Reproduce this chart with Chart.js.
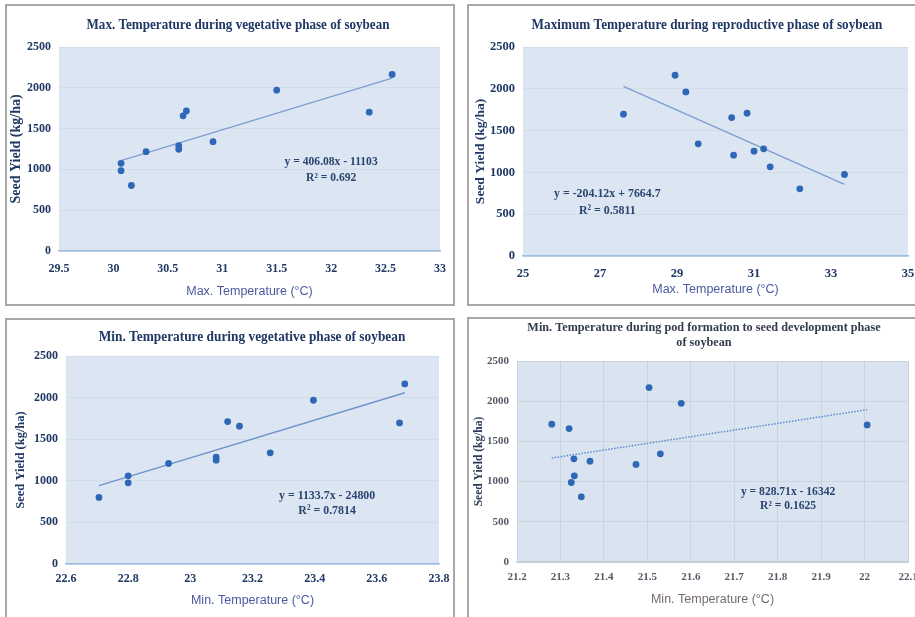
<!DOCTYPE html>
<html><head><meta charset="utf-8">
<script src="https://cdn.jsdelivr.net/npm/chart.js@4.4.1/dist/chart.umd.min.js"></script>
<style>
html,body{margin:0;padding:0;width:915px;height:617px;overflow:hidden;background:#fff;}
.frame{position:absolute;box-sizing:border-box;border:2px solid #a8a8a8;background:#fff;}
canvas{position:absolute;}
</style></head><body>
<div class="frame" style="left:5px;top:4px;width:450px;height:302px"></div>
<div class="frame" style="left:467px;top:4px;width:460px;height:302px"></div>
<div class="frame" style="left:5px;top:318px;width:450px;height:320px"></div>
<div class="frame" style="left:467px;top:317px;width:460px;height:320px"></div>
<canvas id="c1" width="446" height="298" style="left:7px;top:6px"></canvas>
<canvas id="c2" width="446" height="298" style="left:469px;top:6px"></canvas>
<canvas id="c3" width="446" height="297" style="left:7px;top:320px"></canvas>
<canvas id="c4" width="446" height="298" style="left:469px;top:319px"></canvas>
<script>
// ---- data ----
const yieldTicks = [0, 500, 1000, 1500, 2000, 2500];

// Panel 1: Max. temperature, vegetative phase
const maxVegTemp  = [30.07, 30.07, 30.165, 30.30, 30.60, 30.60, 30.64, 30.67, 30.915, 31.50, 32.35, 32.56];
const maxVegYield = [1074, 984, 803, 1217, 1291, 1246, 1656, 1717, 1340, 1971, 1701, 2164];
const maxVegTicks = [29.5, 30, 30.5, 31, 31.5, 32, 32.5, 33];
const maxVegTrendX = [30.07, 32.56];
const maxVegTrendY = [1107, 2119];

// Panel 2: Maximum temperature, reproductive phase
const maxRepTemp  = [27.61, 28.95, 29.23, 29.55, 30.42, 30.47, 30.82, 31.0, 31.25, 31.42, 32.19, 33.35];
const maxRepYield = [1696, 2162, 1963, 1342, 1656, 1206, 1708, 1254, 1282, 1067, 804, 975];
const maxRepTicks = [25, 27, 29, 31, 33, 35];
const maxRepTrendX = [27.61, 33.35];
const maxRepTrendY = [2029, 857];

// Panel 3: Min. temperature, vegetative phase
const minVegTemp  = [22.706, 22.80, 22.80, 22.93, 23.083, 23.083, 23.12, 23.158, 23.257, 23.396, 23.673, 23.69];
const minVegYield = [800, 1060, 976, 1208, 1284, 1248, 1712, 1656, 1336, 1968, 1696, 2164];
const minVegTicks = [22.6, 22.8, 23, 23.2, 23.4, 23.6, 23.8];
const minVegTrendX = [22.706, 23.69];
const minVegTrendY = [942, 2058];

// Panel 4: Min. temperature, pod formation to seed development
const minPodTemp  = [21.28, 21.32, 21.331, 21.368, 21.332, 21.325, 21.348, 21.474, 21.504, 21.53, 21.578, 22.006];
const minPodYield = [1714, 1660, 1283, 1254, 1072, 989, 811, 1213, 2169, 1345, 1974, 1705];
const minPodTicks = [21.2, 21.3, 21.4, 21.5, 21.6, 21.7, 21.8, 21.9, 22, 22.1];
const minPodTrendX = [21.28, 22.006];
const minPodTrendY = [1293, 1895];

// ---- drawing ----
function squeezedText(ctx, t, x, y, sx) {
  ctx.save();
  ctx.translate(x, y);
  ctx.scale(sx, 1);
  ctx.fillText(t, 0, 0);
  ctx.restore();
}
const panelDeco = {
  id: 'panelDeco',
  beforeDraw(chart, args, o) {
    const {ctx, chartArea: a} = chart;
    ctx.save();
    ctx.fillStyle = o.bg;
    ctx.fillRect(a.left, a.top, a.right - a.left, a.bottom - a.top);
    ctx.restore();
  },
  afterDraw(chart, args, o) {
    const ctx = chart.ctx;
    ctx.save();
    ctx.textAlign = 'center';
    ctx.textBaseline = 'middle';
    ctx.font = o.titleFont;
    ctx.fillStyle = o.titleColor;
    o.title.forEach((t, i) => squeezedText(ctx, t, o.titleX, o.titleY + i * o.titleGap, o.titleSqueeze));
    const px = chart.scales.x.getPixelForValue(o.eqAt[0]);
    const py = chart.scales.y.getPixelForValue(o.eqAt[1]);
    ctx.font = o.eqFont;
    ctx.fillStyle = o.eqColor;
    o.eq.forEach((t, i) => squeezedText(ctx, t, px, py + i * o.eqGap, o.eqSqueeze));
    ctx.restore();
  }
};

function makeChart(id, c) {
  const serif = 'Liberation Serif';
  new Chart(document.getElementById(id), {
    type: 'scatter',
    data: {
      datasets: [
        {
          data: c.trendX.map((x, i) => ({x, y: c.trendY[i]})),
          showLine: true, pointRadius: 0, borderColor: c.trendColor,
          borderWidth: c.trendWidth, borderDash: c.trendDash, order: 2
        },
        {
          data: c.x.map((x, i) => ({x, y: c.y[i]})),
          pointRadius: 3.4, backgroundColor: '#2e67b6', borderColor: '#2e67b6',
          borderWidth: 0, order: 1
        }
      ]
    },
    options: {
      responsive: false, animation: false, events: [],
      layout: {padding: {left: 0, top: c.plotTop, right: c.padRight, bottom: 0}},
      plugins: {
        legend: {display: false}, tooltip: {enabled: false},
        panelDeco: c.deco
      },
      scales: {
        x: {
          type: 'linear', min: c.xTicks[0], max: c.xTicks[c.xTicks.length - 1],
          afterBuildTicks: s => { s.ticks = c.xTicks.map(v => ({value: v})); },
          afterFit: s => { s.height = c.xH; s.paddingLeft = 0; s.paddingRight = 0; },
          ticks: {
            callback: v => String(v), color: c.tickColor, padding: c.xTickPad,
            font: {family: serif, weight: 'bold', size: c.tickSize}, maxRotation: 0, autoSkip: false
          },
          grid: {display: true, color: c.xGrid, drawTicks: false},
          border: {display: true, color: c.axisColor, width: 1.5},
          title: {
            display: true, text: c.xTitle, color: c.xTitleColor,
            font: {family: 'Liberation Sans', size: 12.5}, padding: {top: 0, bottom: c.xTitlePad}
          }
        },
        y: {
          type: 'linear', min: 0, max: 2500,
          afterBuildTicks: s => { s.ticks = yieldTicks.map(v => ({value: v})); },
          afterFit: s => { s.width = c.plotLeft; s.paddingTop = 0; s.paddingBottom = 0; },
          ticks: {
            callback: v => String(v), color: c.tickColor, padding: 8,
            font: {family: serif, weight: 'bold', size: c.yTickSize}
          },
          grid: {display: true, color: c.yGrid, drawTicks: false},
          border: {display: false},
          title: {
            display: true, text: 'Seed Yield (kg/ha)', color: c.yTitleColor,
            font: {family: serif, weight: 'bold', size: c.yTitleSize}, padding: {top: c.yTitlePad, bottom: 0}
          }
        }
      }
    },
    plugins: [panelDeco]
  });
}

const navy = '#1f3864';
makeChart('c1', {
  x: maxVegTemp, y: maxVegYield, xTicks: maxVegTicks, trendX: maxVegTrendX, trendY: maxVegTrendY,
  trendColor: '#7d9dcf', trendWidth: 1.3, trendDash: [],
  plotTop: 41, plotLeft: 52, padRight: 13, xH: 53, xTickPad: 11, xTitlePad: 5,
  tickColor: navy, tickSize: 12, yTickSize: 12, xGrid: 'rgba(0,0,0,0)', yGrid: '#d2ddea', axisColor: '#9fbde3',
  xTitle: 'Max. Temperature (°C)', xTitleColor: '#4a5aa0', yTitleColor: navy, yTitleSize: 14, yTitlePad: 1,
  deco: {
    bg: '#dce6f2', title: ['Max. Temperature during vegetative phase of soybean'],
    titleX: 231, titleY: 19, titleGap: 0, titleFont: 'bold 15px "Liberation Serif"', titleColor: navy, titleSqueeze: 0.873,
    eq: ['y = 406.08x - 11103', 'R² = 0.692'], eqAt: [32.0, 1090], eqGap: 16,
    eqFont: 'bold 13px "Liberation Serif"', eqColor: '#2a4470', eqSqueeze: 0.89
  }
});
makeChart('c2', {
  x: maxRepTemp, y: maxRepYield, xTicks: maxRepTicks, trendX: maxRepTrendX, trendY: maxRepTrendY,
  trendColor: '#7d9dcf', trendWidth: 1.3, trendDash: [],
  plotTop: 41, plotLeft: 54, padRight: 7, xH: 48, xTickPad: 10, xTitlePad: 7,
  tickColor: navy, tickSize: 12.5, yTickSize: 12.5, xGrid: 'rgba(0,0,0,0)', yGrid: '#d2ddea', axisColor: '#9fbde3',
  xTitle: 'Max. Temperature (°C)', xTitleColor: '#4a5aa0', yTitleColor: navy, yTitleSize: 13.5, yTitlePad: 3,
  deco: {
    bg: '#dce6f2', title: ['Maximum Temperature during reproductive phase of soybean'],
    titleX: 238, titleY: 19, titleGap: 0, titleFont: 'bold 15px "Liberation Serif"', titleColor: navy, titleSqueeze: 0.88,
    eq: ['y = -204.12x + 7664.7', 'R² = 0.5811'], eqAt: [27.19, 742], eqGap: 17,
    eqFont: 'bold 13.5px "Liberation Serif"', eqColor: '#2a4470', eqSqueeze: 0.88
  }
});
makeChart('c3', {
  x: minVegTemp, y: minVegYield, xTicks: minVegTicks, trendX: minVegTrendX, trendY: minVegTrendY,
  trendColor: '#6f93cc', trendWidth: 1.4, trendDash: [],
  plotTop: 36, plotLeft: 59, padRight: 14, xH: 53, xTickPad: 8, xTitlePad: 9,
  tickColor: navy, tickSize: 12, yTickSize: 12, xGrid: 'rgba(0,0,0,0)', yGrid: '#d2ddea', axisColor: '#9fbde3',
  xTitle: 'Min. Temperature (°C)', xTitleColor: '#4a5aa0', yTitleColor: navy, yTitleSize: 12.5, yTitlePad: 6,
  deco: {
    bg: '#dce6f2', title: ['Min. Temperature during vegetative phase of soybean'],
    titleX: 245, titleY: 17, titleGap: 0, titleFont: 'bold 15px "Liberation Serif"', titleColor: navy, titleSqueeze: 0.89,
    eq: ['y = 1133.7x - 24800', 'R² = 0.7814'], eqAt: [23.44, 829], eqGap: 15,
    eqFont: 'bold 13.5px "Liberation Serif"', eqColor: '#2a4470', eqSqueeze: 0.88
  }
});
makeChart('c4', {
  x: minPodTemp, y: minPodYield, xTicks: minPodTicks, trendX: minPodTrendX, trendY: minPodTrendY,
  trendColor: '#5b8cd0', trendWidth: 1.5, trendDash: [1.5, 1.5],
  plotTop: 42, plotLeft: 48, padRight: 7, xH: 55, xTickPad: 9, xTitlePad: 10,
  tickColor: '#555b66', tickSize: 11, yTickSize: 11, xGrid: '#cad3de', yGrid: '#cad3de', axisColor: '#c3ccd8',
  xTitle: 'Min. Temperature (°C)', xTitleColor: '#766a74', yTitleColor: '#2d3b5a', yTitleSize: 11.5, yTitlePad: 3,
  deco: {
    bg: '#dae4f0', title: ['Min. Temperature during pod formation to seed development phase', 'of soybean'],
    titleX: 235, titleY: 9, titleGap: 15, titleFont: 'bold 13.5px "Liberation Serif"', titleColor: '#333c4c', titleSqueeze: 0.905,
    eq: ['y = 828.71x - 16342', 'R² = 0.1625'], eqAt: [21.824, 871], eqGap: 14,
    eqFont: 'bold 13px "Liberation Serif"', eqColor: '#2a4470', eqSqueeze: 0.89
  }
});
</script>
</body></html>
